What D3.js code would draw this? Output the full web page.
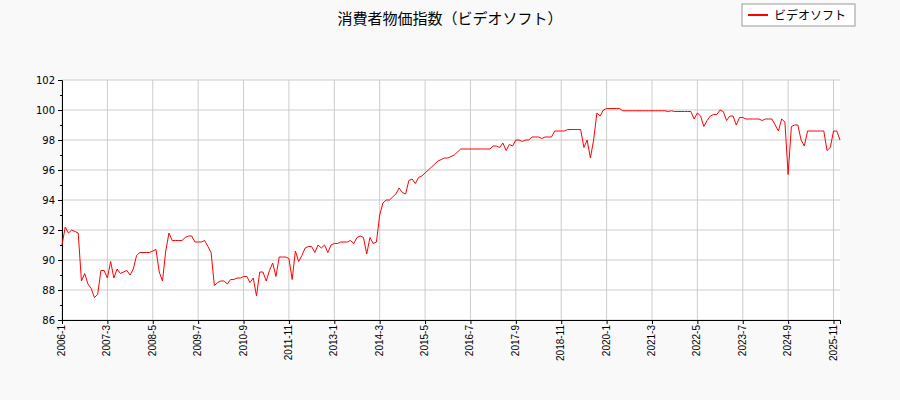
<!DOCTYPE html>
<html><head><meta charset="utf-8">
<script src="https://cdn.jsdelivr.net/npm/d3@7"></script>
<style>body{margin:0;background:#f9f9f9;}</style>
</head><body>
<div id="chart"></div>
<script>
// monthly values, 2006-1 .. 2026-1
const y2006 = [91.0, 92.2, 91.8, 92.0, 91.9, 91.8, 88.6, 89.1, 88.4, 88.1, 87.5, 87.7];
const y2007 = [89.3, 89.3, 88.8, 89.9, 88.8, 89.4, 89.1, 89.2, 89.3, 89.0, 89.4, 90.3];
const y2008 = [90.5, 90.5, 90.5, 90.5, 90.6, 90.7, 89.2, 88.6, 90.6, 91.8, 91.3, 91.3];
const y2009 = [91.3, 91.3, 91.5, 91.6, 91.6, 91.2, 91.2, 91.2, 91.3, 90.9, 90.5, 88.3];
const y2010 = [88.5, 88.6, 88.6, 88.4, 88.7, 88.7, 88.8, 88.8, 88.9, 88.9, 88.5, 88.8];
const y2011 = [87.6, 89.2, 89.2, 88.6, 89.3, 89.8, 88.9, 90.2, 90.2, 90.2, 90.1, 88.7];
const y2012 = [90.6, 89.9, 90.3, 90.8, 90.9, 90.9, 90.5, 91.0, 90.8, 91.0, 90.5, 91.0];
const y2013 = [91.1, 91.1, 91.2, 91.2, 91.2, 91.3, 91.1, 91.5, 91.6, 91.5, 90.4, 91.5];
const y2014 = [91.1, 91.2, 93.0, 93.8, 94.0, 94.0, 94.2, 94.4, 94.8, 94.5, 94.4, 95.3];
const y2015 = [95.4, 95.1, 95.5, 95.6, 95.8, 96.0, 96.2, 96.4, 96.6, 96.7, 96.8, 96.8];
const y2016 = [96.9, 97.0, 97.2, 97.4, 97.4, 97.4, 97.4, 97.4, 97.4, 97.4, 97.4, 97.4];
const y2017 = [97.4, 97.6, 97.6, 97.5, 97.8, 97.3, 97.7, 97.6, 98.0, 98.0, 97.9, 98.0];
const y2018 = [98.0, 98.2, 98.2, 98.2, 98.1, 98.2, 98.2, 98.2, 98.6, 98.6, 98.6, 98.6];
const y2019 = [98.7, 98.7, 98.7, 98.7, 98.7, 97.5, 98.0, 96.8, 98.0, 99.8, 99.6, 100.0];
const y2020 = [100.1, 100.1, 100.1, 100.1, 100.1, 99.95, 99.95, 99.95, 99.95, 99.95, 99.95, 99.95];
const y2021 = [99.95, 99.95, 99.95, 99.95, 99.95, 99.95, 99.95, 99.9, 99.95, 99.9, 99.9, 99.9];
const y2022 = [99.9, 99.9, 99.9, 99.4, 99.8, 99.6, 98.9, 99.3, 99.6, 99.7, 99.7, 100.0];
const y2023 = [99.9, 99.3, 99.6, 99.6, 99.0, 99.5, 99.5, 99.4, 99.4, 99.4, 99.4, 99.4];
const y2024 = [99.3, 99.4, 99.4, 99.4, 99.0, 98.6, 99.4, 99.2, 95.7, 98.9, 99.0, 99.0];
const y2025 = [98.0, 97.6, 98.6, 98.6, 98.6, 98.6, 98.6, 98.6, 97.3, 97.5, 98.6, 98.6];
const y2026 = [98.0];
const values = [].concat(y2006, y2007, y2008, y2009, y2010, y2011, y2012, y2013, y2014,
  y2015, y2016, y2017, y2018, y2019, y2020, y2021, y2022, y2023, y2024, y2025, y2026);
const tickLabels = ["2006-1", "2007-3", "2008-5", "2009-7", "2010-9", "2011-11", "2013-1", "2014-3",
  "2015-5", "2016-7", "2017-9", "2018-11", "2020-1", "2021-3", "2022-5", "2023-7", "2024-9", "2025-11"];
const yTicks = [86, 88, 90, 92, 94, 96, 98, 100, 102];

const W = 900, H = 400;
const margin = {top: 80, right: 60, bottom: 80, left: 62};
const svg = d3.select("#chart").append("svg").attr("width", W).attr("height", H)
  .style("font-family", "DejaVu Sans Mono");

const x = d3.scaleLinear().domain([0, values.length - 1]).range([margin.left, W - margin.right]);
const y = d3.scaleLinear().domain([86, 102]).range([H - margin.bottom, margin.top]);

const tickIdx = tickLabels.map(t => { const [yy, mm] = t.split("-").map(Number); return (yy - 2006) * 12 + mm - 1; });

svg.append("rect").attr("x", margin.left).attr("y", margin.top)
  .attr("width", W - margin.left - margin.right).attr("height", H - margin.top - margin.bottom)
  .attr("fill", "#fff");

// grid
svg.append("g").selectAll("line").data(yTicks).join("line")
  .attr("x1", margin.left).attr("x2", W - margin.right)
  .attr("y1", d => y(d)).attr("y2", d => y(d)).attr("stroke", "#ccc");
svg.append("g").selectAll("line").data(tickIdx).join("line")
  .attr("x1", d => x(d)).attr("x2", d => x(d))
  .attr("y1", margin.top).attr("y2", H - margin.bottom).attr("stroke", "#ccc");

// axes
svg.append("g").attr("transform", `translate(${margin.left},0)`)
  .call(d3.axisLeft(y).tickValues(yTicks).tickSize(4).tickPadding(3))
  .call(g => g.selectAll("text").attr("font-size", 10).attr("font-family", "DejaVu Sans"));
svg.append("g").attr("transform", `translate(${margin.left},0)`)
  .call(d3.axisLeft(y).tickValues(d3.range(87, 102, 2)).tickSize(2).tickFormat(""))
  .call(g => g.select(".domain").remove());
svg.append("g").attr("transform", `translate(0,${H - margin.bottom})`)
  .call(d3.axisBottom(x).tickValues(tickIdx).tickSize(4).tickFormat((d, i) => tickLabels[i]))
  .call(g => g.selectAll("text").attr("font-size", 10)
    .attr("transform", "rotate(-90)").attr("text-anchor", "end")
    .attr("dx", "-0.5em").attr("dy", "-0.45em"));

// line
svg.append("path").datum(values)
  .attr("fill", "none").attr("stroke", "red").attr("stroke-width", 1)
  .attr("d", d3.line().x((d, i) => x(i)).y(d => y(d)));

// title
svg.append("text").attr("x", 450).attr("y", 24).attr("text-anchor", "middle")
  .attr("font-size", 15).attr("font-family", "Noto Sans CJK JP")
  .text("消費者物価指数（ビデオソフト）");

// legend
const lg = svg.append("g").attr("transform", "translate(742,4)");
lg.append("rect").attr("width", 113).attr("height", 22).attr("fill", "#fff").attr("stroke", "#999");
lg.append("line").attr("x1", 6).attr("x2", 26).attr("y1", 11).attr("y2", 11)
  .attr("stroke", "red").attr("stroke-width", 2);
lg.append("text").attr("x", 32).attr("y", 15.5).attr("font-size", 12)
  .attr("font-family", "Noto Sans CJK JP").text("ビデオソフト");
</script>
</body></html>
